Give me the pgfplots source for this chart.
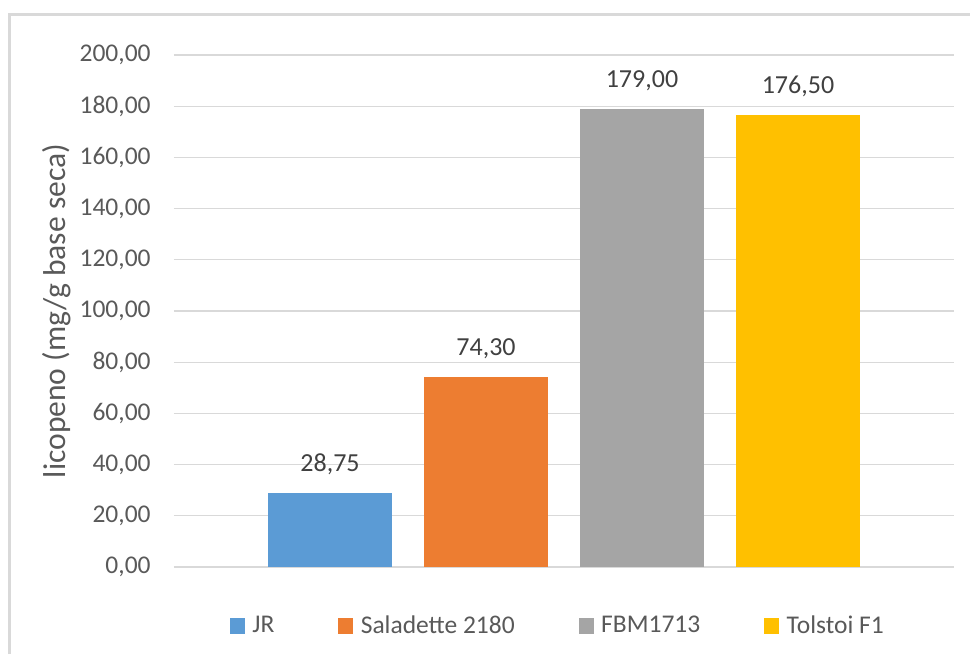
\documentclass[border=0pt]{standalone}
\usepackage{fontspec}
\setmainfont{Carlito}
\usepackage{pgfplots}
\pgfplotsset{compat=1.18}

\definecolor{cBlue}{HTML}{5B9BD5}
\definecolor{cOrange}{HTML}{ED7D31}
\definecolor{cGray}{HTML}{A5A5A5}
\definecolor{cGold}{HTML}{FFC000}
\definecolor{gridc}{HTML}{D9D9D9}
\definecolor{txt}{HTML}{595959}
\definecolor{lbl}{HTML}{404040}

\pgfplotsset{
  sqlegend/.style={legend image code/.code={\fill[##1] (0pt,-3.9pt) rectangle (7.5pt,3.9pt);}},
  onebar/.style={ybar, bar width=0.795, bar shift=0pt, draw=none, fill=#1,
    nodes near coords, sqlegend},
}

\begin{document}
\begin{tikzpicture}
\path[use as bounding box] (0,0) rectangle (485pt,-327pt);
% chart frame
\draw[gridc, line width=1.5pt] (4.75pt,-327pt) -- (4.75pt,-7.25pt) -- (485pt,-7.25pt);
\begin{axis}[
  at={(87pt,-283.5pt)}, anchor=south west,
  scale only axis, width=390pt, height=256pt,
  xmin=-1, xmax=4, ymin=0, ymax=200,
  ytick={0,20,...,200},
  xtick=\empty,
  axis line style={draw=none},
  ymajorgrids, grid style={gridc, line width=0.6pt},
  major tick length=0pt,
  font=\fontsize{12.75}{15}\selectfont,
  /pgf/number format/fixed,
  /pgf/number format/fixed zerofill,
  /pgf/number format/precision=2,
  /pgf/number format/use comma,
  /pgf/number format/assume math mode=true,
  yticklabel style={anchor=east, inner sep=0pt, xshift=-11.5pt, text=txt},
  ylabel={licopeno (mg/g base seca)},
  ylabel style={at={(axis description cs:-0.150,0.5)}, anchor=center,
    font=\fontsize{15.8}{19}\selectfont, text=txt},
  every node near coord/.append style={anchor=base, inner sep=0pt,
    yshift=10.75pt, text=lbl, font=\fontsize{13}{15}\selectfont},
  legend style={at={(axis description cs:0.4925,-0.115)}, anchor=center,
    draw=none, fill=none, font=\fontsize{12.75}{15}\selectfont, text=txt,
    nodes={inner sep=1.25pt},
    /tikz/every odd column/.append style={column sep=2.5pt},
    /tikz/every even column/.append style={column sep=30.7pt}},
  legend columns=4,
]
\addplot[onebar=cBlue]   coordinates {(0,28.75)};
\addplot[onebar=cOrange] coordinates {(1,74.30)};
\addplot[onebar=cGray]   coordinates {(2,179.00)};
\addplot[onebar=cGold]   coordinates {(3,176.50)};
\legend{JR, Saladette 2180, FBM1713, Tolstoi F1}
\end{axis}
\end{tikzpicture}
\end{document}
